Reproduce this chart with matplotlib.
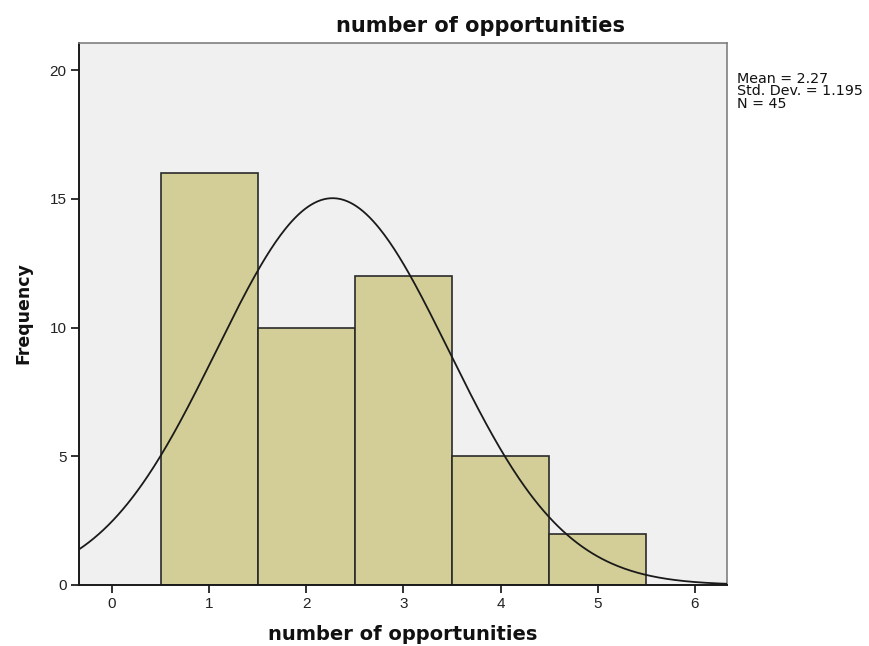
import numpy as np
import matplotlib
matplotlib.use("Agg")
import matplotlib.pyplot as plt

# Histogram data: number of opportunities per respondent
values = [1, 2, 3, 4, 5]
counts = [16, 10, 12, 5, 2]
mean_val = 2.27
std_val = 1.195
n_total = 45
xticks = [0, 1, 2, 3, 4, 5, 6]
yticks = [0, 5, 10, 15, 20]

W, H = 869, 646
fig = plt.figure(figsize=(W / 100, H / 100), dpi=100)
fig.patch.set_facecolor("white")

# axes box in pixel coordinates
left, right, top, bottom = 79, 727, 43, 585
ax = fig.add_axes([left / W, 1 - bottom / H, (right - left) / W, (bottom - top) / H])
ax.set_facecolor("#F0F0F0")

ax.bar(values, counts, width=1.0, color="#D3CE97", edgecolor="#2a2a2a",
       linewidth=1.2, zorder=2)

# fitted normal curve scaled to counts (bin width 1)
xs = np.linspace(-0.34, 6.33, 400)
ys = n_total * 1.0 / (std_val * np.sqrt(2 * np.pi)) * np.exp(-0.5 * ((xs - mean_val) / std_val) ** 2)
ax.plot(xs, ys, color="#1a1a1a", linewidth=1.3, zorder=3)

ax.set_xlim(-0.34, 6.33)
ax.set_ylim(0, 21.05)
ax.set_xticks(xticks)
ax.set_yticks(yticks)

tick_font = {"family": "Liberation Sans", "size": 11}
ax.set_xticklabels([str(t) for t in xticks], fontdict=tick_font, color="#222222")
ax.set_yticklabels([str(t) for t in yticks], fontdict=tick_font, color="#222222")
ax.tick_params(axis="both", direction="out", length=6, width=1.3, color="#222222", pad=3)
for side in ["top", "right"]:
    ax.spines[side].set_color("#808080")
    ax.spines[side].set_linewidth(1.2)
for side in ["left", "bottom"]:
    ax.spines[side].set_color("#1a1a1a")
    ax.spines[side].set_linewidth(1.4)

fig.text(481 / W, 1 - 26 / H, "number of opportunities", ha="center", va="center",
         family="DejaVu Sans", weight="bold", size=15, color="#111111")
fig.text(403 / W, 1 - 634 / H, "number of opportunities", ha="center", va="center",
         family="DejaVu Sans", weight="bold", size=14, color="#111111")
fig.text(23 / W, 1 - 313 / H, "Frequency", ha="center", va="center", rotation=90,
         family="DejaVu Sans", weight="bold", size=12.5, color="#111111")

fig.text(737 / W, 1 - 72 / H,
         f"Mean = {mean_val}\nStd. Dev. = {std_val}\nN = {n_total}",
         ha="left", va="top", family="DejaVu Sans", size=10.3,
         linespacing=0.85, color="#111111")

fig.savefig("out.png", dpi=100)
